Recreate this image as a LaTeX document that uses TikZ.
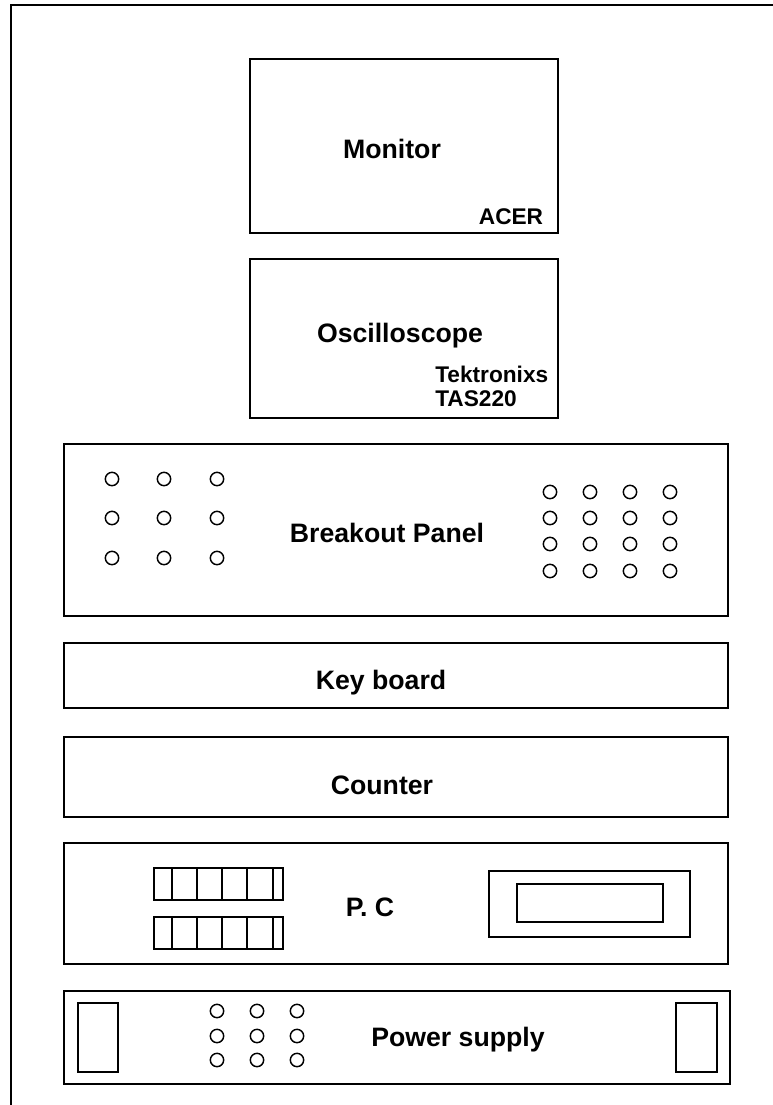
\documentclass[tikz,border=0pt]{standalone}
\usepackage{fontspec}
\setmainfont{Liberation Sans}
\usepackage{tikz}
\usetikzlibrary{positioning}

\tikzset{
  panel/.style={draw, line width=1.5pt},
  jack/.style={draw, line width=1.1pt},
  title/.style={font=\fontsize{20}{22}\selectfont\bfseries, inner sep=0pt},
  brand/.style={font=\fontsize{17}{19}\selectfont\bfseries, inner sep=0pt}
}

\begin{document}
\begin{tikzpicture}[x=0.75pt, y=-0.75pt]
  \useasboundingbox (0,0) rectangle (773,1105);
  % outer frame
  \draw[line width=1.6pt] (11,1105) -- (11,5) -- (773,5);

  % monitor and scope
  \draw[panel] (250,59) rectangle (558,233);
  \node[title] (monitor) at (392,149) {Monitor};
  \node[brand] (acer) at (511,217) {ACER};
  \draw[panel] (250,259) rectangle (558,418);
  \node[title] (scope) at (400,336) {Oscilloscope};
  \node[brand, anchor=west] (tek) at (435,374) {Tektronixs};
  \node[brand, below=6pt of tek.south west, anchor=north west] (tas) {TAS220};

  % breakout panel
  \draw[panel] (64,444) rectangle (728,616);
  \node[title] (breakout) at (387,533) {Breakout Panel};
  \foreach \x in {112,164,217}
    \foreach \y in {479,518,558}
      \draw[jack] (\x,\y) circle [radius=5pt];
  \foreach \x in {550,590,630,670}
    \foreach \y in {492,518,544,571}
      \draw[jack] (\x,\y) circle [radius=5pt];

  % keyboard and counter
  \draw[panel] (64,643) rectangle (728,708);
  \node[title] (keyboard) at (381,683) {Key board};
  \draw[panel] (64,737) rectangle (728,817);
  \node[title] (counter) at (382,785) {Counter};

  % P. C
  \draw[panel] (64,843) rectangle (728,964);
  \node[title] (pc) at (370,907) {P. C};
  \foreach \y/\h in {868/900,917/949} {
    \draw[panel] (154,\y) rectangle (283,\h);
    \foreach \x in {172,197,222,247,273}
      \draw[line width=2pt] (\x,\y) -- (\x,\h);
  }
  \draw[panel] (489,871) rectangle (690,937);
  \draw[panel] (517,884) rectangle (663,922);

  % power supply
  \draw[panel] (64,991) rectangle (730,1084);
  \draw[panel] (78,1003) rectangle (118,1072);
  \draw[panel] (676,1003) rectangle (717,1072);
  \node[title] (power) at (458,1040) {Power supply};
  \foreach \x in {217,257,297}
    \foreach \y in {1011,1036,1060}
      \draw[jack] (\x,\y) circle [radius=5pt];
\end{tikzpicture}
\end{document}
